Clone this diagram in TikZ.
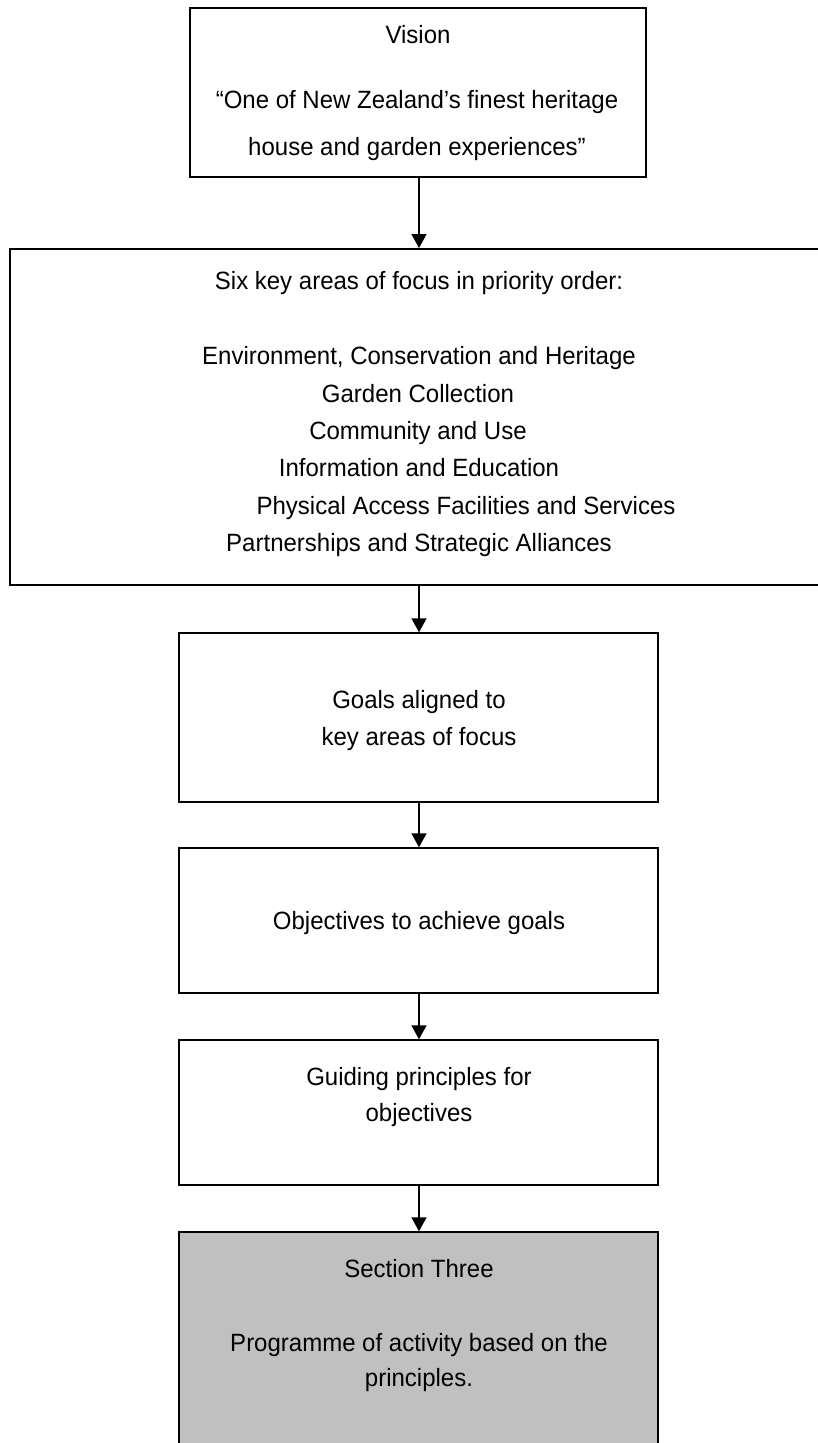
\documentclass[tikz,border=0pt]{standalone}
\usepackage{fontspec}
\setmainfont{Liberation Sans}[FakeStretch=0.96]
\usetikzlibrary{arrows.meta}
\begin{document}
\begin{tikzpicture}[x=1pt,y=-1pt,
  boxA/.style={draw=black,line width=2pt,rectangle,inner sep=0pt},
  boxB/.style={draw=black,line width=1.5pt,rectangle,inner sep=0pt},
  grayfill/.style={fill=shade},
  txt/.style={anchor=base,inner sep=0pt,font=\fontsize{25}{37.4}\selectfont},
  flow/.style={draw=black,line width=1.5pt,-{Triangle[width=15pt,length=14pt]}}]
\definecolor{shade}{RGB}{192,192,192}
\useasboundingbox (0,0) rectangle (818,1443);
% boxes
\node[boxA,minimum width=456pt,minimum height=169pt] (b1) at (418,92.5) {};
\node[boxA,minimum width=818pt,minimum height=336pt] (b2) at (419,417) {};
\node[boxB,minimum width=479pt,minimum height=169pt] (b3) at (418.5,717.5) {};
\node[boxB,minimum width=479pt,minimum height=145pt] (b4) at (418.5,920.5) {};
\node[boxB,minimum width=479pt,minimum height=145pt] (b5) at (418.5,1112.5) {};
\node[boxB,grayfill,minimum width=479pt,minimum height=260pt] (b6) at (418.5,1362) {};
% texts
\node[txt] (t1a) at (418,43) {Vision};
\node[txt] (t1b) at (417,108) {“One of New Zealand’s finest heritage};
\node[txt] (t1c) at (417,155) {house and garden experiences”};
\node[txt] (t2a) at (419,289) {Six key areas of focus in priority order:};
\node[txt] (t2b) at (419,364) {Environment, Conservation and Heritage};
\node[txt] (t2c) at (418,402) {Garden Collection};
\node[txt] (t2d) at (418,439) {Community and Use};
\node[txt] (t2e) at (419,476) {Information and Education};
\node[txt] (t2f) at (466,514) {Physical Access Facilities and Services};
\node[txt] (t2g) at (419,551) {Partnerships and Strategic Alliances};
\node[txt] (t3a) at (419,708) {Goals aligned to};
\node[txt] (t3b) at (419,745) {key areas of focus};
\node[txt] (t4a) at (419,929) {Objectives to achieve goals};
\node[txt] (t5a) at (419,1085) {Guiding principles for};
\node[txt] (t5b) at (419,1121) {objectives};
\node[txt] (t6a) at (419,1277) {Section Three};
\node[txt] (t6b) at (419,1351) {Programme of activity based on the};
\node[txt] (t6c) at (419,1386) {principles.};
% connectors
\draw[flow] (b1.south -| b2.north) -- (b2.north);
\draw[flow] (b2.south) -- (b3.north -| b2.south);
\draw[flow] (b3.south -| b2.south) -- (b4.north -| b2.south);
\draw[flow] (b4.south -| b2.south) -- (b5.north -| b2.south);
\draw[flow] (b5.south -| b2.south) -- (b6.north -| b2.south);
\end{tikzpicture}
\end{document}
